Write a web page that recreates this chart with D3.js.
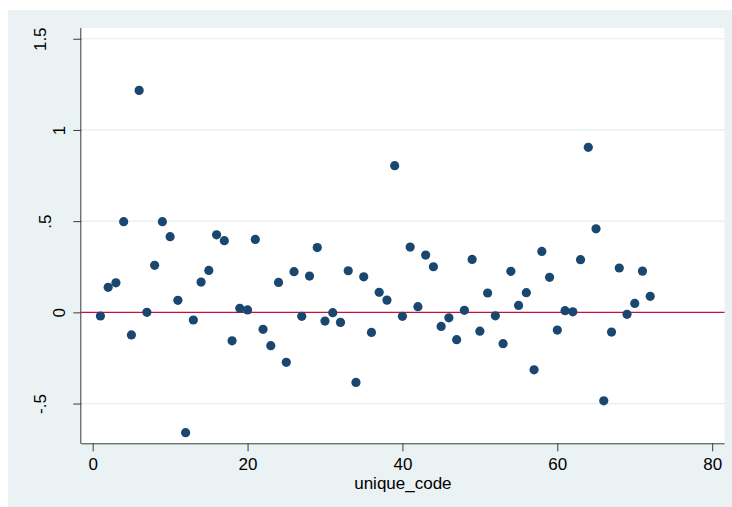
<!DOCTYPE html>
<html>
<head>
<meta charset="utf-8">
<script src="https://cdn.jsdelivr.net/npm/d3@7"></script>
<style>
  html, body { margin: 0; padding: 0; background: #ffffff; }
  svg { display: block; }
  text { font-family: "Liberation Sans", Arial, Helvetica, sans-serif; fill: #000; }
</style>
</head>
<body>
<svg id="chart" width="732" height="507"></svg>
<script>
// ---- data ----
const unique_code = d3.range(1, 73);
const residual = [
  -0.020, 0.137, 0.162, 0.497, -0.124, 1.217, 0.000, 0.258, 0.497, 0.415,
   0.066, -0.660, -0.042, 0.166, 0.230, 0.425, 0.393, -0.156, 0.022, 0.013,
   0.400, -0.093, -0.183, 0.164, -0.274, 0.223, -0.022, 0.199, 0.355, -0.048,
  -0.002, -0.055, 0.228, -0.384, 0.195, -0.110, 0.110, 0.067, 0.804, -0.022,
   0.358, 0.031, 0.314, 0.250, -0.077, -0.030, -0.150, 0.011, 0.290, -0.103,
   0.106, -0.019, -0.172, 0.225, 0.038, 0.108, -0.315, 0.334, 0.192, -0.097,
   0.009, 0.003, 0.289, 0.905, 0.458, -0.485, -0.108, 0.243, -0.011, 0.049,
   0.226, 0.088
];
const xTicks = [0, 20, 40, 60, 80];
const xTickLabels = ["0", "20", "40", "60", "80"];
const yTicks = [-0.5, 0, 0.5, 1, 1.5];
const yTickLabels = ["-.5", "0", ".5", "1", "1.5"];
const refLineValue = [0];
const xTitle = "unique_code";

// ---- layout ----
const svg = d3.select("#chart");
const plot = { left: 81.3, right: 724.5, top: 28, bottom: 443.3 };
const colors = { bg: "#eaf2f3", grid: "#e4eef0", marker: "#1a476f", ref: "#c8103c", axis: "#3c3c3c" };
const fontSize = 17;

const x = d3.scaleLinear().domain([-1.47, 81.59]).range([plot.left, plot.right]);
const y = d3.scaleLinear().domain([-0.718, 1.559]).range([plot.bottom, plot.top]);

// outer background
svg.append("rect").attr("x", 8).attr("y", 10).attr("width", 724).attr("height", 497).attr("fill", colors.bg);
// plot region
svg.append("rect").attr("x", plot.left).attr("y", plot.top)
   .attr("width", plot.right - plot.left).attr("height", plot.bottom - plot.top).attr("fill", "#ffffff");

// gridlines
svg.append("g").selectAll("line").data(yTicks.filter(v => v !== 0)).join("line")
   .attr("x1", plot.left).attr("x2", plot.right)
   .attr("y1", d => y(d)).attr("y2", d => y(d))
   .attr("stroke", colors.grid).attr("stroke-width", 1.2);

// reference line at 0
svg.append("g").selectAll("line").data(refLineValue).join("line")
   .attr("x1", plot.left).attr("x2", plot.right)
   .attr("y1", d => y(d)).attr("y2", d => y(d))
   .attr("stroke", colors.ref).attr("stroke-width", 1.4);

// points
svg.append("g").selectAll("circle").data(unique_code.map((c, i) => [c, residual[i]])).join("circle")
   .attr("cx", d => x(d[0])).attr("cy", d => y(d[1]))
   .attr("r", 4.6).attr("fill", colors.marker);

// x axis
const xAxis = d3.axisBottom(x).tickValues(xTicks).tickSize(8).tickPadding(6)
   .tickFormat((d, i) => xTickLabels[i]);
const gx = svg.append("g").attr("transform", `translate(0,${plot.bottom})`).call(xAxis);
gx.select(".domain").attr("d", `M${plot.left},0.5H${plot.right}`).attr("stroke", colors.axis);
gx.selectAll(".tick line").attr("stroke", colors.axis);
gx.selectAll(".tick text").attr("font-size", fontSize + "px")
   .attr("font-family", "Liberation Sans, Arial, sans-serif")
   .attr("fill", "#000").attr("dy", null).attr("y", 26.5);

// y axis
const yAxis = d3.axisLeft(y).tickValues(yTicks).tickSize(8).tickPadding(6)
   .tickFormat((d, i) => yTickLabels[i]);
const gy = svg.append("g").attr("transform", `translate(${plot.left},0)`).call(yAxis);
gy.select(".domain").attr("d", `M-0.5,${plot.top}V${plot.bottom + 0.5}`).attr("stroke", colors.axis);
gy.selectAll(".tick line").attr("stroke", colors.axis);
const labelCenterByLen = { 1: 59, 2: 45, 3: 40 };
gy.selectAll(".tick text")
   .attr("font-size", fontSize + "px").attr("font-family", "Liberation Sans, Arial, sans-serif").attr("fill", "#000")
   .attr("x", null).attr("dy", null)
   .attr("text-anchor", "middle")
   .attr("transform", (d, i) => {
     const cx = labelCenterByLen[yTickLabels[i].length] - plot.left;
     return `translate(${cx + 6.1},0) rotate(-90)`;
   });

// x title
svg.append("text").attr("x", (plot.left + plot.right) / 2).attr("y", 489)
   .attr("text-anchor", "middle").attr("font-size", fontSize + "px").text(xTitle);
</script>
</body>
</html>
